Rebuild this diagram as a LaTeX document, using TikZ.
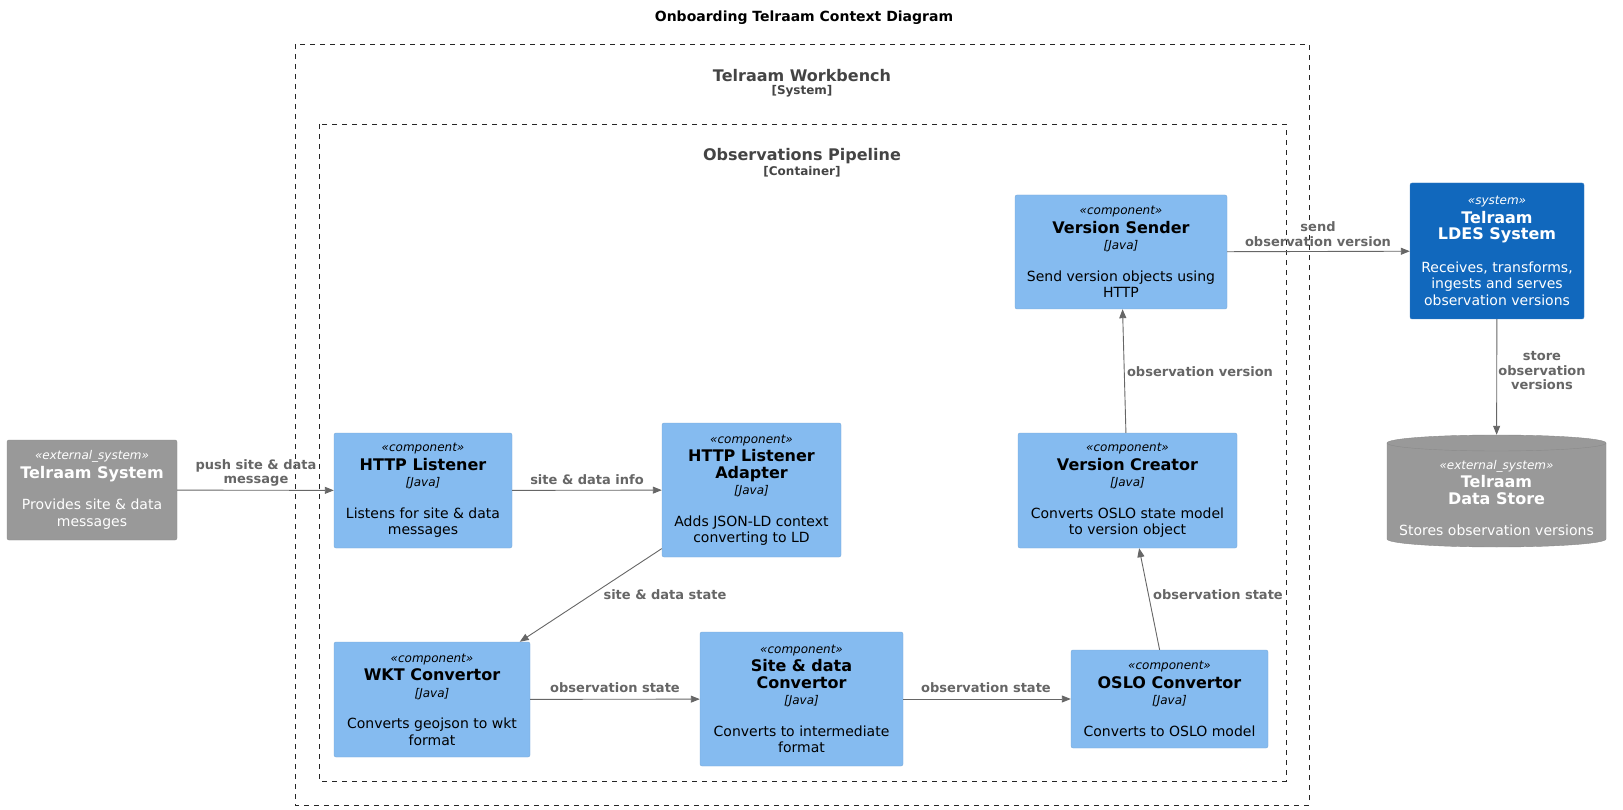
\documentclass[tikz,border=0pt]{standalone}
\usepackage{fontspec}
\setmainfont{DejaVu Sans}
\usepackage{tikz}
\usetikzlibrary{arrows.meta}
\definecolor{compfill}{HTML}{85BBF0}
\definecolor{compline}{HTML}{78A8D8}
\definecolor{sysfill}{HTML}{1168BD}
\definecolor{sysline}{HTML}{3C7FC0}
\definecolor{extfill}{HTML}{999999}
\definecolor{extline}{HTML}{8A8A8A}
\definecolor{relgray}{HTML}{666666}
\definecolor{bndgray}{HTML}{444444}
\newcommand{\stereo}[1]{{\itshape\fontsize{12}{15}\selectfont «#1»}}
\newcommand{\tech}{{\itshape\fontsize{12}{16.5}\selectfont [Java]}}
\newcommand{\cname}[1]{{\bfseries\fontsize{16}{17}\selectfont #1}}

\begin{document}
\begin{tikzpicture}[x=1pt, y=-1pt,
    box/.style={rectangle, rounded corners=2pt, align=center, inner sep=2pt,
        font=\fontsize{14}{16.5}\selectfont},
    comp/.style={box, draw=compline, fill=compfill, text=black},
    ldessys/.style={box, draw=sysline, fill=sysfill, text=white},
    extsys/.style={box, draw=extline, fill=extfill, text=white},
    rel/.style={draw=relgray, line width=0.9pt, -{Triangle[length=9pt,width=7pt]}},
    lbl/.style={text=relgray, align=center, inner sep=0pt,
        font=\bfseries\fontsize{13}{14.5}\selectfont},
    bndtitle/.style={text=bndgray, inner sep=0pt, font=\bfseries\fontsize{16}{17}\selectfont},
    bndtag/.style={text=bndgray, inner sep=0pt, font=\bfseries\fontsize{12}{13}\selectfont},
    boundary/.style={draw=black!85, line width=0.8pt, dash pattern=on 5pt off 5pt}]
    \useasboundingbox (0,0) rectangle (1623,810);

    \node[font=\bfseries\fontsize{14}{16}\selectfont] (title) at (804,18) {Onboarding Telraam Context Diagram};

    % boundaries
    \draw[boundary] (295,44) rectangle (1309,805);
    \draw[boundary] (319,124) rectangle (1286,781);
    \node[bndtitle] (workbench) at (802,76) {Telraam Workbench};
    \node[bndtag] (workbenchtag) at (802,91.5) {[System]};
    \node[bndtitle] (pipeline) at (802,156) {Observations Pipeline};
    \node[bndtag] (pipelinetag) at (802,172) {[Container]};

    % systems
    \node[extsys, minimum width=170, minimum height=100] (tsys) at (92,490)
        {\stereo{external\_system}\\[2pt]\cname{Telraam System}\\[15pt]Provides site \& data\\messages};
    \node[ldessys, minimum width=174, minimum height=136] (ldes) at (1497,251)
        {\stereo{system}\\[2pt]\cname{Telraam}\\\cname{LDES System}\\[16pt]Receives, transforms,\\ingests and serves\\observation versions};

    % data store
    \node[minimum width=219, minimum height=112, inner sep=0pt] (store) at (1496.5,491) {};
    \filldraw[fill=extfill, draw=extline] (1387,443) -- (1387,539)
        arc[start angle=180, end angle=360, x radius=109.5pt, y radius=8pt] -- (1606,443)
        arc[start angle=0, end angle=180, x radius=109.5pt, y radius=8pt] -- cycle;
    \draw[extline] (1387,443) arc[start angle=180, end angle=360, x radius=109.5pt, y radius=8pt];
    \node[align=center, text=white, font=\fontsize{14}{16.5}\selectfont] (storetext) at (1496.5,498)
        {\stereo{external\_system}\\[2pt]\cname{Telraam}\\\cname{Data Store}\\[15pt]Stores observation versions};

    % components
    \node[comp, minimum width=178, minimum height=115] (httpl) at (423,490.5)
        {\stereo{component}\\[2pt]\cname{HTTP Listener}\\\tech\\[15pt]Listens for site \& data\\messages};
    \node[comp, minimum width=179, minimum height=134] (adapter) at (751.5,490)
        {\stereo{component}\\[2pt]\cname{HTTP Listener}\\\cname{Adapter}\\\tech\\[15pt]Adds JSON-LD context\\converting to LD};
    \node[comp, minimum width=196, minimum height=115] (wkt) at (432,699.5)
        {\stereo{component}\\[2pt]\cname{WKT Convertor}\\\tech\\[15pt]Converts geojson to wkt\\format};
    \node[comp, minimum width=203, minimum height=134] (sdconv) at (801.5,699)
        {\stereo{component}\\[2pt]\cname{Site \& data}\\\cname{Convertor}\\\tech\\[15pt]Converts to intermediate\\format};
    \node[comp, minimum width=197, minimum height=98] (oslo) at (1169.5,699)
        {\stereo{component}\\[2pt]\cname{OSLO Convertor}\\\tech\\[15pt]Converts to OSLO model};
    \node[comp, minimum width=219, minimum height=115] (vcreator) at (1127.5,490.5)
        {\stereo{component}\\[2pt]\cname{Version Creator}\\\tech\\[15pt]Converts OSLO state model\\to version object};
    \node[comp, minimum width=212, minimum height=114] (vsender) at (1121,252)
        {\stereo{component}\\[2pt]\cname{Version Sender}\\\tech\\[15pt]Send version objects using\\HTTP};

    % relations
    \draw[rel] (tsys) -- (httpl);
    \draw[rel] (httpl) -- (adapter);
    \draw[rel] (adapter) -- (wkt);
    \draw[rel] (wkt) -- (sdconv);
    \draw[rel] (sdconv) -- (oslo);
    \draw[rel] (oslo) -- (vcreator);
    \draw[rel] (vcreator) -- (vsender);
    \draw[rel] (vsender) -- (ldes);
    \draw[rel] (ldes) -- (store);

    \node[lbl] (lpush) at (256,473) {push site \& data\\message};
    \node[lbl] (linfo) at (587,480) {site \& data info};
    \node[lbl] (lstate) at (665,595) {site \& data state};
    \node[lbl] (lobsa) at (615,688) {observation state};
    \node[lbl] (lobsb) at (986,688) {observation state};
    \node[lbl] (lobsc) at (1218,595) {observation state};
    \node[lbl] (lver) at (1200,372) {observation version};
    \node[lbl] (lsend) at (1318,234) {send\\observation version};
    \node[lbl] (lstore) at (1542,371) {store\\observation\\versions};
\end{tikzpicture}
\end{document}
